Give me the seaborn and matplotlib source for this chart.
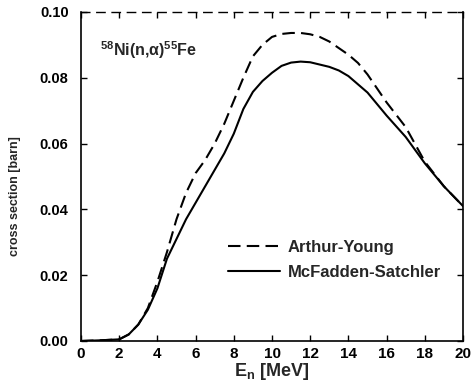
import matplotlib
matplotlib.use("Agg")
import matplotlib.pyplot as plt
import seaborn as sns
import pandas as pd

energy = [0, 1, 2, 2.5, 3, 3.5, 4, 4.5, 5, 5.5, 6, 6.5, 7, 7.5, 8, 8.5, 9, 9.5,
          10, 10.5, 11, 11.5, 12, 12.5, 13, 13.5, 14, 14.5, 15, 16, 17, 18, 19, 20]
arthur_young = [0, 0.0002, 0.0005, 0.002, 0.005, 0.010, 0.018, 0.027, 0.037, 0.045,
                0.051, 0.055, 0.060, 0.066, 0.073, 0.080, 0.0865, 0.090,
                0.0924, 0.0933, 0.0936, 0.0936, 0.0932, 0.0924, 0.091, 0.089,
                0.087, 0.0845, 0.081, 0.0725, 0.065, 0.0545, 0.047, 0.041]
mcfadden_satchler = [0, 0.0002, 0.0005, 0.002, 0.005, 0.0095, 0.016, 0.025, 0.031, 0.037,
                     0.042, 0.047, 0.052, 0.057, 0.063, 0.0705, 0.0757, 0.079,
                     0.0815, 0.0836, 0.0846, 0.0849, 0.0847, 0.0840, 0.0833, 0.0822,
                     0.0805, 0.078, 0.0755, 0.0685, 0.062, 0.054, 0.047, 0.041]
series_names = ["Arthur-Young", "McFadden-Satchler"]
x_ticks = [0, 2, 4, 6, 8, 10, 12, 14, 16, 18, 20]
y_ticks = [0.00, 0.02, 0.04, 0.06, 0.08, 0.10]

df = pd.DataFrame({
    "E": energy * 2,
    "sigma": arthur_young + mcfadden_satchler,
    "model": [series_names[0]] * len(energy) + [series_names[1]] * len(energy),
})

sns.set_theme(style="ticks")
plt.rcParams["font.family"] = ["Liberation Sans", "DejaVu Sans"]
plt.rcParams["font.weight"] = "bold"
plt.rcParams["mathtext.fontset"] = "custom"
plt.rcParams["mathtext.rm"] = "Liberation Sans:bold"
plt.rcParams["mathtext.bf"] = "Liberation Sans:bold"
plt.rcParams["mathtext.it"] = "Liberation Sans:bold"

fig = plt.figure(figsize=(4.71, 3.84), dpi=100)
ax = fig.add_axes([0.172, 0.112, 0.811, 0.857])

sns.lineplot(data=df, x="E", y="sigma", hue="model", style="model",
             palette=["black", "black"],
             dashes={series_names[0]: (6, 3), series_names[1]: ""},
             linewidth=1.5, ax=ax, legend=True)

ax.set_xlim(0, 20)
ax.set_ylim(0, 0.10)
ax.set_xticks(x_ticks)
ax.set_yticks(y_ticks)
ax.set_xticklabels([str(t) for t in x_ticks], fontsize=11, fontweight="bold")
ax.set_yticklabels([f"{t:.2f}" for t in y_ticks], fontsize=10.5, fontweight="bold")
ax.tick_params(direction="in", length=4, width=1, top=True, right=True,
               colors="black")
ax.tick_params(axis="y", pad=9)
ax.tick_params(axis="x", pad=4)
for s in ["left", "bottom", "right"]:
    ax.spines[s].set_linewidth(1.2)
    ax.spines[s].set_color("black")
ax.spines["top"].set_linewidth(1.0)
ax.spines["top"].set_linestyle((0, (6, 5)))
ax.spines["top"].set_color("black")

ax.set_xlabel(r"E$_\mathregular{n}$ [MeV]", fontsize=13, fontweight="bold", labelpad=0)
ax.set_ylabel("cross section [barn]", fontsize=9, fontweight="bold")
ax.yaxis.set_label_coords(-0.158, 0.44)

ax.text(0.05, 0.885, r"$^{58}$Ni(n,$\alpha$)$^{55}$Fe", transform=ax.transAxes,
        fontsize=11.5, fontweight="bold", ha="left", va="center")

leg = ax.legend(loc="upper left", bbox_to_anchor=(0.452, 0.414),
                bbox_transform=fig.transFigure, frameon=False,
                fontsize=12, handlelength=3.1, handletextpad=0.5, labelspacing=0.6)
for t in leg.get_texts():
    t.set_fontweight("bold")

fig.savefig("out.png", dpi=100, facecolor="white")
